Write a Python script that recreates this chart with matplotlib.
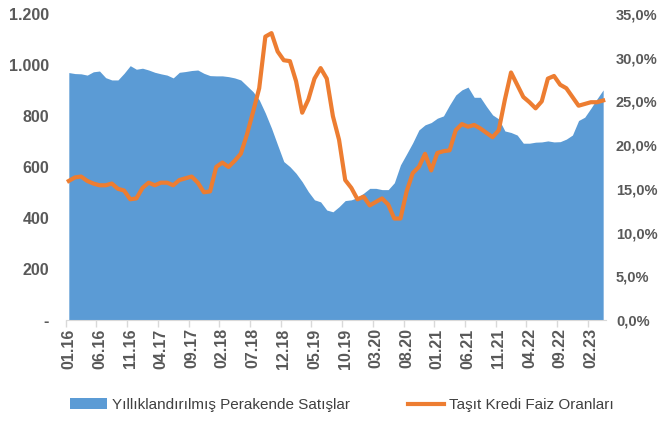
import matplotlib
matplotlib.use("Agg")
import matplotlib.pyplot as plt
from matplotlib.patches import Patch
from matplotlib.lines import Line2D
from matplotlib.ticker import FuncFormatter
import numpy as np
import pandas as pd

# monthly data, 01.16 - 04.23
months = pd.date_range("2016-01-01", periods=88, freq="MS").strftime("%m.%y").tolist()

# annualised retail sales (left axis)
sales = [970, 966, 965, 960, 973, 976, 950, 941, 941, 967,
         997, 983, 987, 980, 971, 965, 960, 949, 971, 974,
         978, 980, 967, 958, 957, 957, 954, 949, 941, 918,
         895, 863, 811, 752, 686, 621, 601, 575, 542, 503,
         471, 463, 431, 424, 444, 468, 471, 480, 497, 516,
         516, 511, 511, 538, 608, 651, 695, 745, 765, 774,
         791, 800, 843, 882, 902, 913, 873, 873, 837, 804,
         788, 741, 735, 725, 693, 693, 697, 698, 702, 698,
         699, 709, 725, 782, 795, 830, 867, 902]

# vehicle loan interest rate, % (right axis)
rate = [15.9, 16.3, 16.4, 15.9, 15.6, 15.4, 15.4, 15.6, 15.0, 14.8,
        13.8, 13.9, 15.1, 15.7, 15.4, 15.7, 15.7, 15.4, 16.0, 16.2,
        16.4, 15.7, 14.6, 14.7, 17.5, 18.0, 17.5, 18.2, 19.0, 21.2,
        23.8, 26.5, 32.4, 32.8, 30.7, 29.7, 29.6, 27.3, 23.7, 25.2,
        27.6, 28.8, 27.6, 23.3, 20.6, 16.0, 15.1, 13.8, 14.1, 13.1,
        13.5, 13.9, 13.2, 11.6, 11.6, 14.7, 16.8, 17.5, 19.0, 17.1,
        19.1, 19.3, 19.4, 21.7, 22.4, 22.1, 22.3, 21.9, 21.4, 20.9,
        21.7, 25.2, 28.3, 26.9, 25.5, 24.9, 24.2, 25.0, 27.6, 27.9,
        26.9, 26.5, 25.5, 24.5, 24.7, 24.9, 24.9, 25.1]

series_names = ["Yıllıklandırılmış Perakende Satışlar", "Taşıt Kredi Faiz Oranları"]

blue = "#5B9BD5"
orange = "#ED7D31"
grey = "#595959"

plt.rcParams["font.family"] = ["Liberation Sans Narrow", "Liberation Sans", "DejaVu Sans"]

fig = plt.figure(figsize=(6.64, 4.21), dpi=100)
ax = fig.add_axes([0.099, 0.240, 0.814, 0.727])
ax2 = ax.twinx()

x = np.arange(len(sales))
ax.fill_between(x, sales, 0, color=blue, linewidth=0)
ax2.plot(x, rate, color=orange, linewidth=3, solid_joinstyle="round")

ax.set_xlim(-0.5, len(sales) - 0.5)
ax.set_ylim(0, 1200)
ax2.set_ylim(0, 35)

ax.set_yticks(np.arange(0, 1201, 200))
ax2.set_yticks(np.arange(0, 35.1, 5))


def left_fmt(v, pos):
    if v == 0:
        return "-"
    return f"{int(v):,}".replace(",", ".")


ax.yaxis.set_major_formatter(FuncFormatter(left_fmt))
ax2.yaxis.set_major_formatter(FuncFormatter(lambda v, p: f"{v:.1f}%".replace(".", ",")))

# labels at category centres, tick marks at category boundaries
lab_idx = list(range(0, len(sales), 5))
ax.set_xticks(lab_idx)
ax.set_xticklabels([months[i] for i in lab_idx], rotation=90)
ax.set_xticks([i - 0.5 for i in lab_idx], minor=True)
ax.tick_params(axis="x", which="major", length=0, pad=6)
ax.tick_params(axis="x", which="minor", length=5, color="#D9D9D9", width=1)

for a in (ax, ax2):
    for s in a.spines.values():
        s.set_visible(False)
ax.spines["bottom"].set_visible(True)
ax.spines["bottom"].set_color("#D9D9D9")

ax.tick_params(axis="y", length=0, pad=12)
ax2.tick_params(axis="y", length=0, pad=7)

for lab in ax.get_xticklabels() + ax.get_yticklabels():
    lab.set_fontweight("bold")
    lab.set_color(grey)
    lab.set_fontsize(11.5)
for lab in ax2.get_yticklabels():
    lab.set_fontweight("bold")
    lab.set_color(grey)
    lab.set_fontsize(10.5)

handles = [Patch(facecolor=blue, edgecolor="none"),
           Line2D([0], [0], color=orange, linewidth=3)]
fig.legend(handles, series_names, loc="center", bbox_to_anchor=(0.515, 0.038),
           ncol=2, frameon=False, fontsize=11, handlelength=2.4,
           columnspacing=3.8, handletextpad=0.3, labelcolor="#404040")

fig.savefig("out.png", dpi=100)
